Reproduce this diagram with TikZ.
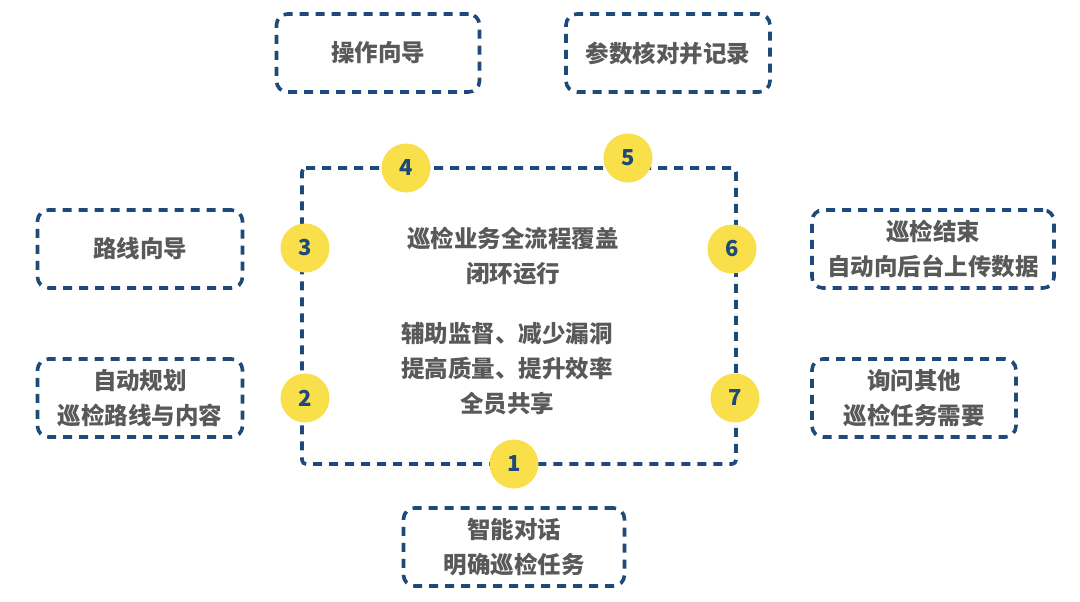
\documentclass[tikz,border=0pt]{standalone}
\usepackage{fontspec}
\setmainfont{Noto Sans CJK SC}
\definecolor{dashblue}{HTML}{1D4A78}
\definecolor{yel}{HTML}{F9E04B}
\definecolor{txtgray}{HTML}{595959}
\tikzset{
  x=1pt, y=-1pt,
  dashline/.style={draw=dashblue, line width=3.6pt, dash pattern=on 9pt off 7pt},
  stepbox/.style={dashline, rounded corners=11pt, minimum height=78pt, inner sep=0pt},
  lbl/.style={text=txtgray, font=\fontsize{23.5}{35}\selectfont\bfseries, align=center},
  numc/.style={circle, fill=yel, minimum size=49pt, inner sep=0pt, text=dashblue, font=\fontsize{22}{22}\selectfont\bfseries},
}
\begin{document}
\begin{tikzpicture}
\useasboundingbox[fill=white] (0,0) rectangle (1080,602);
% main loop
\coordinate (tl) at (302,168);
\coordinate (tr) at (736,168);
\coordinate (br) at (736,464);
\coordinate (bl) at (302,464);
\draw[dashline, rounded corners=4pt] (tl) -- (tr) -- (br) -- (bl) -- cycle;
% boxes
\node[stepbox, minimum width=203pt] (b1) at (378,53) {};
\node[lbl] at (b1) {操作向导};
\node[stepbox, minimum width=204pt] (b2) at (668,53) {};
\node[lbl] at (b2) {参数核对并记录};
\node[stepbox, minimum width=205pt] (b3) at (140,249) {};
\node[lbl] at (b3) {路线向导};
\node[stepbox, minimum width=205pt] (b4) at (140,398) {};
\node[lbl] at (b4) {自动规划\\巡检路线与内容};
\node[stepbox, minimum width=242pt] (b5) at (933,249) {};
\node[lbl] at (b5) {巡检结束\\自动向后台上传数据};
\node[stepbox, minimum width=204pt] (b6) at (914,398) {};
\node[lbl] at (b6) {询问其他\\巡检任务需要};
\node[stepbox, minimum width=221pt] (b7) at (514,547) {};
\node[lbl] at (b7) {智能对话\\明确巡检任务};
% center text
\node[lbl] (t1) at (513,256) {巡检业务全流程覆盖\\闭环运行};
\node[lbl] (t2) at (507,369) {辅助监督、减少漏洞\\提高质量、提升效率\\全员共享};
% circles
\node[numc] (c1) at (514,464) {1};
\node[numc] (c2) at (305,398) {2};
\node[numc] (c3) at (305,248) {3};
\node[numc] (c4) at (406,168) {4};
\node[numc] (c5) at (628,158) {5};
\node[numc] (c6) at (732,249) {6};
\node[numc] (c7) at (735,398) {7};
\end{tikzpicture}
\end{document}
